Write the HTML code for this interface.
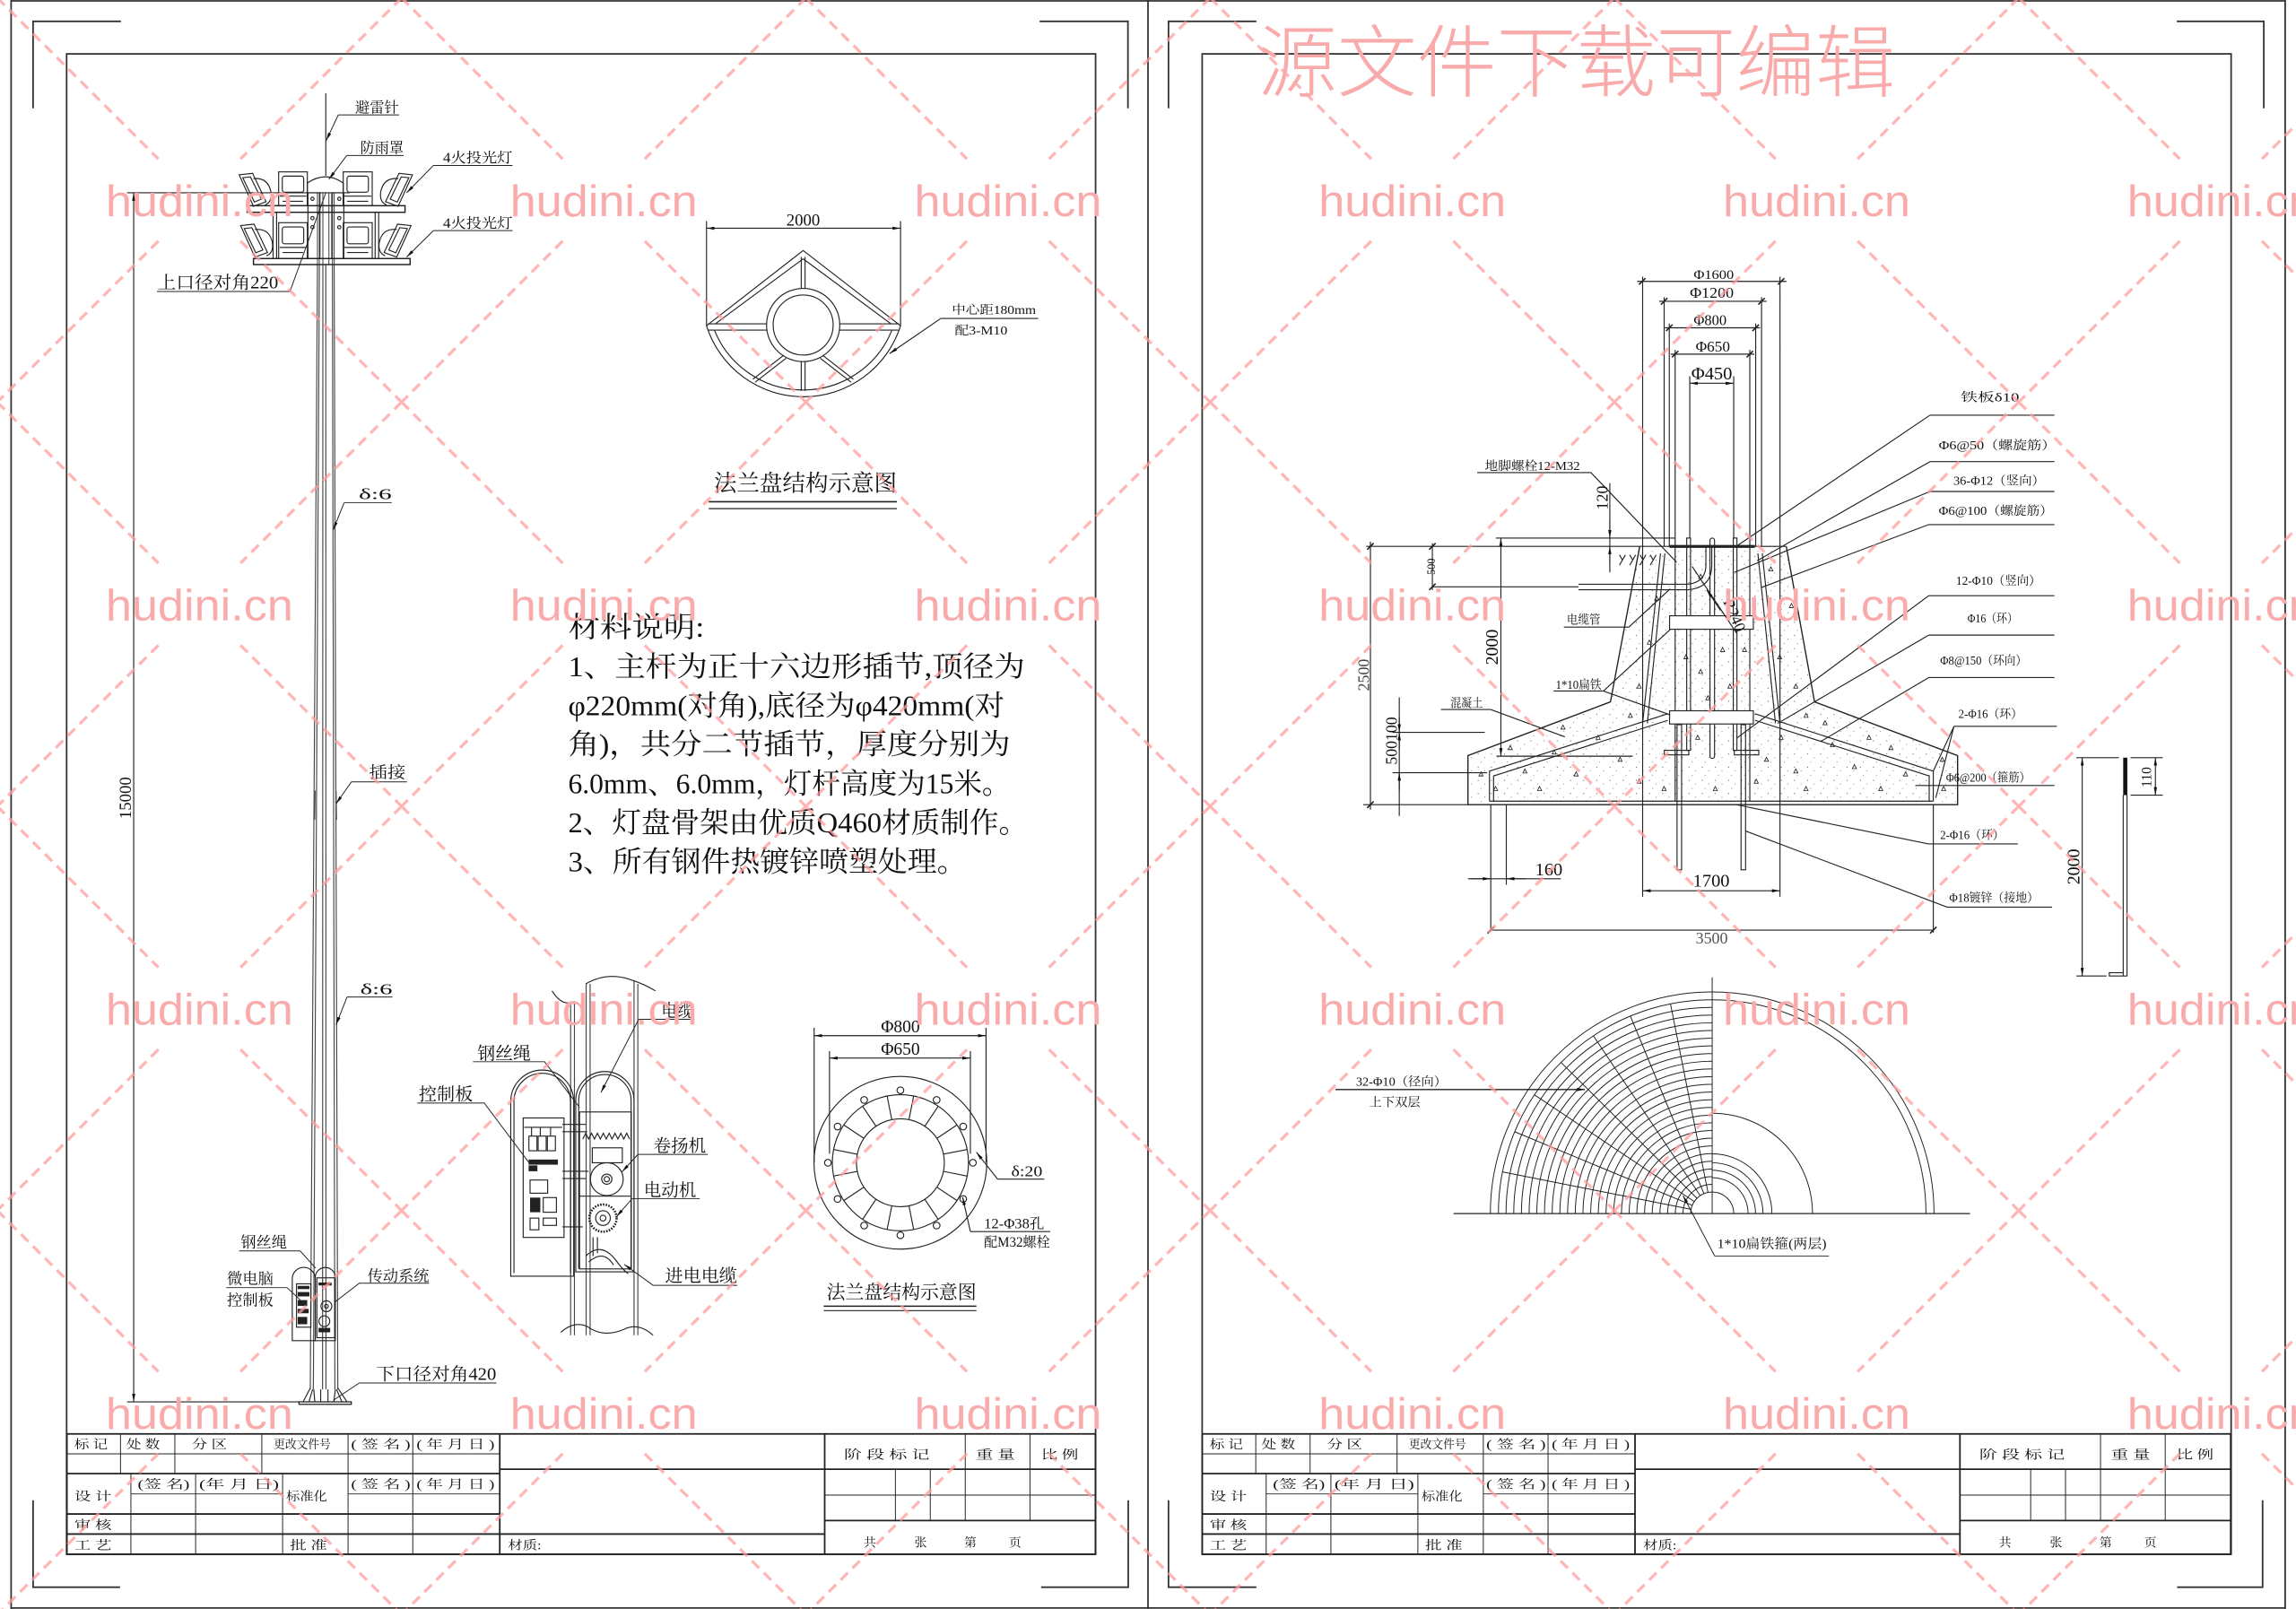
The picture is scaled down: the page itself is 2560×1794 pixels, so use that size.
<!DOCTYPE html>
<html><head><meta charset="utf-8">
<style>
html,body{margin:0;padding:0;background:#fff;}
svg{display:block;}
text{font-family:"Liberation Serif","Noto Serif CJK SC",serif;fill:#111;}
.ss{font-family:"Liberation Sans","Noto Sans CJK SC",sans-serif;}
</style></head><body>
<svg xmlns="http://www.w3.org/2000/svg" width="2560" height="1794" viewBox="0 0 1568 1099" preserveAspectRatio="none">
<defs>
<marker id="a" viewBox="0 0 10 4" refX="10" refY="2" markerUnits="userSpaceOnUse" markerWidth="5.5" markerHeight="2.2" orient="auto"><path d="M0 0L10 2L0 4z" fill="#111"/></marker>
<marker id="as" viewBox="0 0 10 4" refX="10" refY="2" markerUnits="userSpaceOnUse" markerWidth="5.5" markerHeight="2.2" orient="auto-start-reverse"><path d="M0 0L10 2L0 4z" fill="#111"/></marker>
<pattern id="dt" patternUnits="userSpaceOnUse" x="0" y="0" width="9" height="9">
<circle cx="1.5" cy="2" r="0.35" fill="#555"/><circle cx="6" cy="4.5" r="0.3" fill="#555"/><circle cx="3.5" cy="7.5" r="0.3" fill="#555"/>
</pattern>
<pattern id="wm" patternUnits="userSpaceOnUse" x="-1.85" y="-1.45" width="276.1" height="276.1">
<g stroke="#ff9c9c" stroke-width="2" stroke-dasharray="7 4.5" fill="none" opacity="0.75">
<line x1="0" y1="0" x2="110" y2="110"/>
<line x1="166.1" y1="166.1" x2="276.1" y2="276.1"/>
<line x1="276.1" y1="0" x2="166.1" y2="110"/>
<line x1="110" y1="166.1" x2="0" y2="276.1"/>
</g>
<text class="ss" x="138.05" y="149" text-anchor="middle" font-size="30" textLength="128" lengthAdjust="spacingAndGlyphs" style="fill:#f9aaaa">hudini.cn</text>
</pattern>
</defs>
<rect width="1568" height="1099" fill="#fff"/>

<!-- ================= FRAMES ================= -->
<g stroke="#333" stroke-width="1.1" fill="none">
<line x1="7.6" y1="0.6" x2="1560.6" y2="0.6"/>
<line x1="7.6" y1="1098.3" x2="1560.6" y2="1098.3"/>
<line x1="7.6" y1="0" x2="7.6" y2="1099"/>
<line x1="784" y1="0" x2="784" y2="1099"/>
<line x1="1560.6" y1="0" x2="1560.6" y2="1099"/>
<rect x="45.5" y="36.8" width="702.7" height="1024.8"/>
<rect x="821" y="36.8" width="702.7" height="1024.8"/>
<path d="M22.6 74V14.6H82.6M710 14.6H770.3V74M22.6 1024.7V1084.1H82M711 1084.1H770.5V1024.7"/>
<path d="M798 74V14.6H858M1486.6 14.6H1546V74M798 1024.7V1084.1H858M1486.8 1084.1H1545.2V1024.7"/>
</g>

<!-- ================= TITLE BLOCKS ================= -->
<g>
<g stroke="#222" fill="none">
<g stroke-width="1.1">
<rect x="45.7" y="979.4" width="702.4" height="82.2"/>
<line x1="45.7" y1="1006.5" x2="341.3" y2="1006.5"/>
<line x1="45.7" y1="1034.1" x2="341.3" y2="1034.1"/>
<line x1="45.7" y1="1047.8" x2="563.2" y2="1047.8"/>
<line x1="341.3" y1="979.4" x2="341.3" y2="1061.6"/>
<line x1="563.2" y1="979.4" x2="563.2" y2="1061.6"/>
<line x1="341.3" y1="1003.5" x2="748.1" y2="1003.5"/>
<line x1="563.2" y1="1038.6" x2="748.1" y2="1038.6"/>
</g>
<g stroke-width="0.6">
<line x1="45.7" y1="993" x2="341.3" y2="993"/>
<line x1="89.4" y1="1020.4" x2="193" y2="1020.4"/>
<line x1="237.7" y1="1020.4" x2="341.3" y2="1020.4"/>
<line x1="563.2" y1="1021.2" x2="748.1" y2="1021.2"/>
<path d="M82.3 979.4V1006.5M119.4 979.4V1006.5M178.8 979.4V1006.5M237.7 979.4V1006.5M281.9 979.4V1006.5"/>
<path d="M89.4 1006.5V1061.6M133.6 1006.5V1061.6M193 1006.5V1061.6M237.7 1006.5V1061.6M281.9 1006.5V1061.6"/>
<path d="M611.5 1003.5V1038.6M635.3 1003.5V1038.6M659.2 979.4V1038.6M703.4 979.4V1038.6"/>
</g>
</g>
<g font-size="8.5">
<text x="50.8" y="989.3" textLength="22.8" lengthAdjust="spacingAndGlyphs">标 记</text>
<text x="86.3" y="989.3" textLength="22.9" lengthAdjust="spacingAndGlyphs">处 数</text>
<text x="131" y="989.3" textLength="24" lengthAdjust="spacingAndGlyphs">分 区</text>
<text x="186.9" y="989.3" textLength="39" lengthAdjust="spacingAndGlyphs">更改文件号</text>
<text x="239.7" y="989.3" textLength="40.6" lengthAdjust="spacingAndGlyphs">( 签 名 )</text>
<text x="284.4" y="989.3" textLength="53.3" lengthAdjust="spacingAndGlyphs">( 年 月 日 )</text>
<text x="94" y="1016.5" textLength="35.5" lengthAdjust="spacingAndGlyphs">(签 名)</text>
<text x="136" y="1016.5" textLength="54.5" lengthAdjust="spacingAndGlyphs">(年 月 日)</text>
<text x="239.7" y="1016.5" textLength="40.6" lengthAdjust="spacingAndGlyphs">( 签 名 )</text>
<text x="284.4" y="1016.5" textLength="53.3" lengthAdjust="spacingAndGlyphs">( 年 月 日 )</text>
<text x="50.8" y="1025" textLength="25.4" lengthAdjust="spacingAndGlyphs">设 计</text>
<text x="195.5" y="1025" textLength="27.9" lengthAdjust="spacingAndGlyphs">标准化</text>
<text x="50.8" y="1044.5" textLength="25.4" lengthAdjust="spacingAndGlyphs">审 核</text>
<text x="50.8" y="1058.3" textLength="25.4" lengthAdjust="spacingAndGlyphs">工 艺</text>
<text x="198" y="1058.3" textLength="25.4" lengthAdjust="spacingAndGlyphs">批 准</text>
<text x="346.9" y="1058.3" textLength="22.8" lengthAdjust="spacingAndGlyphs">材质:</text>
<text x="576.4" y="996.3" textLength="58.4" lengthAdjust="spacingAndGlyphs">阶 段 标 记</text>
<text x="666.3" y="996.3" textLength="26.9" lengthAdjust="spacingAndGlyphs">重 量</text>
<text x="711" y="996.3" textLength="25.4" lengthAdjust="spacingAndGlyphs">比 例</text>
<text x="594" y="1056.5" text-anchor="middle">共</text>
<text x="628.7" y="1056.5" text-anchor="middle">张</text>
<text x="662.7" y="1056.5" text-anchor="middle">第</text>
<text x="693.2" y="1056.5" text-anchor="middle">页</text>
</g>
</g>

<g transform="translate(775.3 0)">
<g stroke="#222" fill="none">
<g stroke-width="1.1">
<rect x="45.7" y="979.4" width="702.4" height="82.2"/>
<line x1="45.7" y1="1006.5" x2="341.3" y2="1006.5"/>
<line x1="45.7" y1="1034.1" x2="341.3" y2="1034.1"/>
<line x1="45.7" y1="1047.8" x2="563.2" y2="1047.8"/>
<line x1="341.3" y1="979.4" x2="341.3" y2="1061.6"/>
<line x1="563.2" y1="979.4" x2="563.2" y2="1061.6"/>
<line x1="341.3" y1="1003.5" x2="748.1" y2="1003.5"/>
<line x1="563.2" y1="1038.6" x2="748.1" y2="1038.6"/>
</g>
<g stroke-width="0.6">
<line x1="45.7" y1="993" x2="341.3" y2="993"/>
<line x1="89.4" y1="1020.4" x2="193" y2="1020.4"/>
<line x1="237.7" y1="1020.4" x2="341.3" y2="1020.4"/>
<line x1="563.2" y1="1021.2" x2="748.1" y2="1021.2"/>
<path d="M82.3 979.4V1006.5M119.4 979.4V1006.5M178.8 979.4V1006.5M237.7 979.4V1006.5M281.9 979.4V1006.5"/>
<path d="M89.4 1006.5V1061.6M133.6 1006.5V1061.6M193 1006.5V1061.6M237.7 1006.5V1061.6M281.9 1006.5V1061.6"/>
<path d="M611.5 1003.5V1038.6M635.3 1003.5V1038.6M659.2 979.4V1038.6M703.4 979.4V1038.6"/>
</g>
</g>
<g font-size="8.5">
<text x="50.8" y="989.3" textLength="22.8" lengthAdjust="spacingAndGlyphs">标 记</text>
<text x="86.3" y="989.3" textLength="22.9" lengthAdjust="spacingAndGlyphs">处 数</text>
<text x="131" y="989.3" textLength="24" lengthAdjust="spacingAndGlyphs">分 区</text>
<text x="186.9" y="989.3" textLength="39" lengthAdjust="spacingAndGlyphs">更改文件号</text>
<text x="239.7" y="989.3" textLength="40.6" lengthAdjust="spacingAndGlyphs">( 签 名 )</text>
<text x="284.4" y="989.3" textLength="53.3" lengthAdjust="spacingAndGlyphs">( 年 月 日 )</text>
<text x="94" y="1016.5" textLength="35.5" lengthAdjust="spacingAndGlyphs">(签 名)</text>
<text x="136" y="1016.5" textLength="54.5" lengthAdjust="spacingAndGlyphs">(年 月 日)</text>
<text x="239.7" y="1016.5" textLength="40.6" lengthAdjust="spacingAndGlyphs">( 签 名 )</text>
<text x="284.4" y="1016.5" textLength="53.3" lengthAdjust="spacingAndGlyphs">( 年 月 日 )</text>
<text x="50.8" y="1025" textLength="25.4" lengthAdjust="spacingAndGlyphs">设 计</text>
<text x="195.5" y="1025" textLength="27.9" lengthAdjust="spacingAndGlyphs">标准化</text>
<text x="50.8" y="1044.5" textLength="25.4" lengthAdjust="spacingAndGlyphs">审 核</text>
<text x="50.8" y="1058.3" textLength="25.4" lengthAdjust="spacingAndGlyphs">工 艺</text>
<text x="198" y="1058.3" textLength="25.4" lengthAdjust="spacingAndGlyphs">批 准</text>
<text x="346.9" y="1058.3" textLength="22.8" lengthAdjust="spacingAndGlyphs">材质:</text>
<text x="576.4" y="996.3" textLength="58.4" lengthAdjust="spacingAndGlyphs">阶 段 标 记</text>
<text x="666.3" y="996.3" textLength="26.9" lengthAdjust="spacingAndGlyphs">重 量</text>
<text x="711" y="996.3" textLength="25.4" lengthAdjust="spacingAndGlyphs">比 例</text>
<text x="594" y="1056.5" text-anchor="middle">共</text>
<text x="628.7" y="1056.5" text-anchor="middle">张</text>
<text x="662.7" y="1056.5" text-anchor="middle">第</text>
<text x="693.2" y="1056.5" text-anchor="middle">页</text>
</g>
</g>

<!-- ================= LEFT SHEET: POLE ================= -->
<g stroke="#222" stroke-width="0.7" fill="none">
<line x1="222.5" y1="63.7" x2="222.5" y2="120"/>
<path d="M209.9 140.5V125Q222.5 116.5 234.4 125V140.5"/>
<path d="M216.8 131.7V181M218.1 131.7V181M220.5 131.7V181M224.6 131.7V181M227 131.7V181M228.2 131.7V181" stroke="#555"/>
<rect x="210.3" y="131.7" width="8.2" height="44.9"/>
<rect x="226.6" y="131.7" width="8.2" height="44.9"/>
<circle cx="213.4" cy="135.8" r="1.1"/><circle cx="213.4" cy="149" r="1.1"/><circle cx="213.4" cy="155.2" r="1.1"/>
<circle cx="231.7" cy="135.8" r="1.1"/><circle cx="231.7" cy="149" r="1.1"/><circle cx="231.7" cy="155.2" r="1.1"/>
<rect x="168.8" y="140.5" width="107.8" height="4.5" stroke-width="0.9"/>
<rect x="173.1" y="176.6" width="107" height="4.1" stroke-width="0.9"/>
<path d="M188.9 145V176.6M256.2 145V176.6M186.5 145V176.6M258.6 145V176.6"/>
<rect x="190.3" y="117.4" width="19.6" height="23.1"/>
<rect x="192.8" y="120.3" width="14.6" height="11" rx="1.5"/>
<path d="M191 134H209.2M193 137.5H207"/>
<rect x="234.4" y="117.4" width="19.8" height="23.1"/>
<rect x="237" y="120.3" width="14.6" height="11" rx="1.5"/>
<path d="M235 134H253.6M237 137.5H251.5"/>
<rect x="190.3" y="152.1" width="19.6" height="24.5"/>
<rect x="192.8" y="155" width="14.6" height="11.5" rx="1.5"/>
<path d="M191 169H209.2M193 172.5H207"/>
<rect x="234.4" y="152.1" width="19.8" height="24.5"/>
<rect x="237" y="155" width="14.6" height="11.5" rx="1.5"/>
<path d="M235 169H253.6M237 172.5H251.5"/>
<path d="M163.3 119.4L172.5 118.4L181.7 137.8L173.1 140.9Z M165.8 121.4L171 120.8L178.5 136L173.7 138Z"/>
<path d="M173 122Q183 121 185 131Q186 138 181 140"/>
<path d="M281.7 119.4L272.5 118.4L263.3 137.8L271.9 140.9Z M279.2 121.4L274 120.8L266.5 136L271.3 138Z"/>
<path d="M272 122Q262 121 260 131Q259 138 264 140"/>
<path d="M164.3 154.1L173.5 153.1L182.7 172.5L174.1 175.6Z M166.8 156.1L172 155.5L179.5 170.7L174.7 172.7Z"/>
<path d="M174 156.7Q184 155.7 186 165.7Q187 172.7 182 174.7"/>
<path d="M280.7 154.1L271.5 153.1L262.3 172.5L270.9 175.6Z M278.2 156.1L273 155.5L265.5 170.7L270.3 172.7Z"/>
<path d="M271 156.7Q261 155.7 259 165.7Q258 172.7 263 174.7"/>
<line x1="86.8" y1="131.7" x2="238.9" y2="131.7"/>
<line x1="86.8" y1="957.5" x2="204" y2="957.5"/>
<line x1="91.3" y1="131.7" x2="91.3" y2="957.5" marker-start="url(#as)" marker-end="url(#as)"/>
<g stroke="#444">
<line x1="216.8" y1="181" x2="211.9" y2="949"/>
<line x1="218.1" y1="181" x2="214" y2="949"/>
<line x1="220.5" y1="181" x2="220.3" y2="949"/>
<line x1="222.5" y1="181" x2="222.6" y2="949"/>
<line x1="227" y1="181" x2="228.7" y2="949"/>
<line x1="228.2" y1="181" x2="230.7" y2="949"/>
<path d="M215.2 540L214.9 560M229.5 540L229.8 560"/>
</g>
<rect x="204.2" y="957.5" width="35.7" height="1.7" stroke-width="0.8"/>
<path d="M207 957.5L212 948M211 957.5L213.5 949M215 957.5L214.3 949M237 957.5L230.7 948M233.5 957.5L229.8 949M228 957.5L229 949M219 957.5V949M224 957.5V949"/>
<path d="M199.6 915.7V873.5A7.85 7.85 0 0 1 215.3 873.5V915.7Z"/>
<path d="M215.3 915.7V872.6A6.85 6.85 0 0 1 229 872.6V915.7Z"/>
<rect x="202.5" y="876.9" width="9.8" height="29.6"/>
<rect x="216.4" y="872.8" width="12.2" height="40.9"/>
<circle cx="222.9" cy="892.2" r="3.7"/><circle cx="222.9" cy="892.2" r="1.3"/>
<circle cx="221.5" cy="902.4" r="3.7"/>
</g>
<g fill="#222">
<rect x="203.3" y="878.3" width="8" height="2.2"/>
<rect x="203.3" y="882.5" width="8" height="3"/>
<rect x="203.3" y="888" width="6.5" height="4"/>
<rect x="203.3" y="894" width="7.5" height="3"/>
<rect x="203.3" y="899.5" width="6.5" height="5"/>
<rect x="217.5" y="876" width="9" height="2"/>
<rect x="217.5" y="907" width="8" height="3"/>
</g>

<g stroke="#222" stroke-width="0.6" fill="none">
<path d="M231 78.5H272.5"/><path d="M231 78.5L222.8 96" marker-end="url(#a)"/>
<path d="M236.8 106.2H275.6"/><path d="M236.8 106.2L224.6 122.5" marker-end="url(#a)"/>
<path d="M296 113H350"/><path d="M296 113L277.7 131.7" marker-end="url(#a)"/>
<path d="M296 157.5H350"/><path d="M296 157.5L277.7 175.6" marker-end="url(#a)"/>
<path d="M107.2 199.1H198L222.5 131.7"/>
<path d="M235 343.4H267.5"/><path d="M235 343.4L227.5 362" marker-end="url(#a)"/>
<path d="M240 534H278"/><path d="M240 534L229.5 549" marker-end="url(#a)"/>
<path d="M237 681H268"/><path d="M237 681L229.5 700" marker-end="url(#a)"/>
<path d="M163.3 854.4H205L215.6 866.2"/>
<path d="M154.5 879.5H196L205.2 888"/>
<path d="M293 876.5H245.4L229.1 889"/>
<path d="M339 944.6H245.4L227.6 956.5"/>
</g>
<g>
<text x="242.5" y="77" font-size="10" textLength="30" lengthAdjust="spacingAndGlyphs">避雷针</text>
<text x="246" y="104.5" font-size="10" textLength="29.6" lengthAdjust="spacingAndGlyphs">防雨罩</text>
<text x="302.5" y="111" font-size="9.5" textLength="47.5" lengthAdjust="spacingAndGlyphs">4火投光灯</text>
<text x="302.5" y="155.7" font-size="9.5" textLength="47.5" lengthAdjust="spacingAndGlyphs">4火投光灯</text>
<text x="107.5" y="197" font-size="12" textLength="82.5" lengthAdjust="spacingAndGlyphs">上口径对角220</text>
<text transform="translate(89.5 545) rotate(-90)" text-anchor="middle" font-size="11.5">15000</text>
<text x="245" y="341" font-size="10" textLength="22.5" lengthAdjust="spacingAndGlyphs">δ:6</text>
<text x="252" y="531.5" font-size="11" textLength="25" lengthAdjust="spacingAndGlyphs">插接</text>
<text x="246" y="679" font-size="10" textLength="22" lengthAdjust="spacingAndGlyphs">δ:6</text>
<text x="164.4" y="852" font-size="10.5" textLength="31.6" lengthAdjust="spacingAndGlyphs">钢丝绳</text>
<text x="155" y="877" font-size="10.5" textLength="31.8" lengthAdjust="spacingAndGlyphs">微电脑</text>
<text x="155" y="891.5" font-size="10.5" textLength="31.8" lengthAdjust="spacingAndGlyphs">控制板</text>
<text x="251" y="875" font-size="10.5" textLength="42" lengthAdjust="spacingAndGlyphs">传动系统</text>
<text x="256.8" y="942.5" font-size="12" textLength="82.1" lengthAdjust="spacingAndGlyphs">下口径对角420</text>
</g>

<!-- ================= UPPER FLANGE ================= -->
<g stroke="#222" stroke-width="0.7" fill="none">
<line x1="482.5" y1="151" x2="482.5" y2="222.5"/>
<line x1="615" y1="151" x2="615" y2="222.5"/>
<line x1="482.5" y1="155.9" x2="615" y2="155.9" marker-start="url(#as)" marker-end="url(#as)"/>
<path d="M548.5 171.1L482.5 222.5A69.5 69.5 0 0 0 615 222.5Z"/>
<path d="M548.5 176.8L488.5 221.2M548.5 176.8L608.5 221.2"/>
<path d="M488 225.8A65.4 65.4 0 0 0 609 225.8"/>
<path d="M483.5 221.2H523.8M483.5 225.5H524M573.2 221.2H614M573 225.5H613.5"/>
<circle cx="548.5" cy="222" r="25"/>
<circle cx="548.5" cy="222" r="20.5"/>
<path d="M547.2 175.5V197M549.8 175.5V197M547.2 247V267M549.8 247V267"/>
<path d="M535.2 242.6L514.2 259M536.8 244.7L515.8 261M561.8 242.6L582.8 259M560.2 244.7L581.2 261"/>
<path d="M642.5 217.5H709"/>
<path d="M642.5 217.5L607.5 241.5" marker-end="url(#a)"/>
<path d="M484 342.7H612.5" stroke-width="1"/>
<path d="M484 347.4H612.5" stroke-width="0.8"/>
</g>
<text x="548.5" y="154" text-anchor="middle" font-size="11.5">2000</text>
<text x="650" y="214.5" font-size="8.5" textLength="57.5" lengthAdjust="spacingAndGlyphs">中心距180mm</text>
<text x="652" y="228.5" font-size="8.5" textLength="36" lengthAdjust="spacingAndGlyphs">配3-M10</text>
<text x="487.5" y="335.5" font-size="15.6" textLength="125" lengthAdjust="spacingAndGlyphs">法兰盘结构示意图</text>

<!-- ================= MATERIAL TEXT ================= -->
<g font-size="19.5">
<text x="388" y="435" textLength="93" lengthAdjust="spacingAndGlyphs">材料说明:</text>
<text x="388" y="462" textLength="312" lengthAdjust="spacingAndGlyphs">1、主杆为正十六边形插节,顶径为</text>
<text x="388" y="488.5" textLength="298" lengthAdjust="spacingAndGlyphs">φ220mm(对角),底径为φ420mm(对</text>
<text x="388" y="515" textLength="302" lengthAdjust="spacingAndGlyphs">角)，共分二节插节，厚度分别为</text>
<text x="388" y="542" textLength="302" lengthAdjust="spacingAndGlyphs">6.0mm、6.0mm，灯杆高度为15米。</text>
<text x="388" y="568.5" textLength="314" lengthAdjust="spacingAndGlyphs">2、灯盘骨架由优质Q460材质制作。</text>
<text x="388" y="595" textLength="272" lengthAdjust="spacingAndGlyphs">3、所有钢件热镀锌喷塑处理。</text>
</g>

<!-- ================= WINCH DETAIL ================= -->
<g stroke="#222" stroke-width="0.7" fill="none">
<path d="M389.7 684V912M392.3 684V912M400.3 672V912M403 672V912M433 670V912M435.6 672V912" stroke="#444"/>
<path d="M377 676.8Q384 688 392.3 684"/>
<path d="M400 672Q414 664 429 668.6Q440 672 447.6 676.8"/>
<path d="M383 910Q392 902 401 906Q412 914 426 908Q436 903 446 912"/>
<path d="M348.8 871.7V752.4A21.5 21.5 0 0 1 391.8 752.4V871.7Z"/>
<path d="M351 869.5V752.4A19.3 19.3 0 0 1 389.6 752.4V869.5"/>
<path d="M393.2 868.7V751.8A19.9 19.9 0 0 1 433 751.8V868.7Z"/>
<path d="M395.2 866.7V751.8A17.9 17.9 0 0 1 431 751.8V866.7"/>
<rect x="357.3" y="763.6" width="27.9" height="81.6"/>
<rect x="361.2" y="776" width="5.5" height="10"/><rect x="367.5" y="776" width="5.5" height="10"/><rect x="373.8" y="776" width="5.5" height="10"/>
<path d="M358 770H384M363 770V776M369 770V776M376 770V776"/>
<rect x="362" y="806" width="12" height="9"/>
<rect x="371" y="818" width="9" height="10"/>
<rect x="362" y="832" width="6" height="8"/>
<rect x="371" y="832" width="9" height="5"/>
<path d="M384 768H400M384 773H401M384 800H402M384 805H400M384 838H398"/>
<rect x="395.8" y="759.5" width="35.3" height="107.2"/>
<polyline points="398,778 400,774 402,778 404,774 406,778 408,774 410,778 412,774 414,778 416,774 418,778 420,774 422,778 424,774 426,778 428,774 430,778"/>
<rect x="404.5" y="784" width="20.5" height="10.2"/>
<circle cx="414.4" cy="805.4" r="11.2"/>
<circle cx="414.4" cy="805.4" r="3.5"/>
<circle cx="414.4" cy="805.4" r="1.8"/>
<line x1="395.8" y1="817" x2="431.1" y2="817"/>
<circle cx="411.8" cy="832" r="9.3" stroke-width="1.6" stroke-dasharray="1 0.9"/>
<circle cx="411.8" cy="832" r="5"/>
<circle cx="411.8" cy="832" r="2"/>
<path d="M400 858Q410 848 420 860Q425 867 429 870M402 862Q412 853 419 864"/>
<path d="M405 845V858M408 845V856"/>
</g>
<g fill="#222">
<rect x="361" y="792" width="20" height="3.5"/>
<rect x="362" y="818" width="7" height="10"/>
<rect x="361" y="796" width="6" height="4"/>
</g>
<g stroke="#222" stroke-width="0.6" fill="none">
<path d="M474.2 696.2H436.2"/><path d="M436.2 696.2L410.4 746.2" marker-end="url(#a)"/>
<path d="M323 725.2H371.9L395.8 756.4"/>
<path d="M285 753.4H330.7L361.3 794.2"/>
<path d="M483.4 788.5H435.7"/><path d="M435.7 788.5L424.8 800.4" marker-end="url(#a)"/>
<path d="M477.9 818.7H431.7"/><path d="M431.7 818.7L421 831" marker-end="url(#a)"/>
<path d="M503.4 877.9H446"/><path d="M446 877.9L426.3 863.6" marker-end="url(#a)"/>
</g>
<g font-size="12">
<text x="451.6" y="694.5" textLength="22.6" lengthAdjust="spacingAndGlyphs">电缆</text>
<text x="326" y="723.5" textLength="36.6" lengthAdjust="spacingAndGlyphs">钢丝绳</text>
<text x="286" y="751.5" textLength="37" lengthAdjust="spacingAndGlyphs">控制板</text>
<text x="446.3" y="786.5" textLength="35.8" lengthAdjust="spacingAndGlyphs">卷扬机</text>
<text x="439.6" y="817" textLength="35.9" lengthAdjust="spacingAndGlyphs">电动机</text>
<text x="454.2" y="875.5" textLength="49.2" lengthAdjust="spacingAndGlyphs">进电电缆</text>
</g>

<!-- ================= LOWER FLANGE ================= -->
<g stroke="#222" stroke-width="0.7" fill="none">
<circle cx="614.9" cy="794.2" r="59"/>
<circle cx="614.9" cy="794.2" r="46.5"/>
<circle cx="614.9" cy="794.2" r="30"/>
<g transform="translate(614.9 794.2)">
<path d="M0 -30V-46.5M0 30V46.5M-30 0H-46.5M30 0H46.5M21.2 -21.2L32.9 -32.9M-21.2 -21.2L-32.9 -32.9M21.2 21.2L32.9 32.9M-21.2 21.2L-32.9 32.9M11.5 -27.7L17.8 -43M-11.5 -27.7L-17.8 -43M11.5 27.7L17.8 43M-11.5 27.7L-17.8 43M27.7 -11.5L43 -17.8M-27.7 -11.5L-43 -17.8M27.7 11.5L43 17.8M-27.7 11.5L-43 17.8" transform="rotate(11.25)"/>
<circle cx="0" cy="-49.5" r="2.3"/><circle cx="24.75" cy="-42.9" r="2.3"/><circle cx="42.9" cy="-24.75" r="2.3"/><circle cx="49.5" cy="0" r="2.3"/>
<circle cx="42.9" cy="24.75" r="2.3"/><circle cx="24.75" cy="42.9" r="2.3"/><circle cx="0" cy="49.5" r="2.3"/><circle cx="-24.75" cy="42.9" r="2.3"/>
<circle cx="-42.9" cy="24.75" r="2.3"/><circle cx="-49.5" cy="0" r="2.3"/><circle cx="-42.9" cy="-24.75" r="2.3"/><circle cx="-24.75" cy="-42.9" r="2.3"/>
</g>
<path d="M556 702V794M673.4 702V794M566.5 718V788M662.7 718V788"/>
<line x1="556" y1="707.4" x2="673.4" y2="707.4" marker-start="url(#as)" marker-end="url(#as)"/>
<line x1="566.5" y1="722.7" x2="662.7" y2="722.7" marker-start="url(#as)" marker-end="url(#as)"/>
<path d="M681.3 805.4H713.2"/><path d="M681.3 805.4L666.8 787" marker-end="url(#a)"/>
<path d="M662.7 841.2H717.2"/><path d="M662.7 841.2L657.4 817.7" marker-end="url(#a)"/>
<path d="M562.5 892.2H666.8" stroke-width="0.9"/>
<path d="M562.5 895.2H666.8" stroke-width="0.7"/>
</g>
<text x="601.6" y="705" font-size="12" textLength="26.6" lengthAdjust="spacingAndGlyphs">Φ800</text>
<text x="601.6" y="720.3" font-size="12" textLength="26.6" lengthAdjust="spacingAndGlyphs">Φ650</text>
<text x="690.6" y="803.5" font-size="10" textLength="21.3" lengthAdjust="spacingAndGlyphs">δ:20</text>
<text x="672" y="839" font-size="9.5" textLength="41.2" lengthAdjust="spacingAndGlyphs">12-Φ38孔</text>
<text x="672" y="851.5" font-size="9.5" textLength="45" lengthAdjust="spacingAndGlyphs">配M32螺栓</text>
<text x="564.5" y="887" font-size="12.8" textLength="102.3" lengthAdjust="spacingAndGlyphs">法兰盘结构示意图</text>

<!-- ================= RIGHT SHEET: FOUNDATION ================= -->
<path d="M1119.8 373.2L1099.8 479.4L1002.5 516.1V549.6H1336.9V516.1L1239.2 479.4L1219.9 373.2Z" fill="url(#dt)" stroke="none"/>
<g stroke="#222" stroke-width="0.7" fill="none">
<path d="M1118 192.2H1220M1133 205.8H1206.5M1137 223.9H1202M1141 241.9H1198"/>
<path d="M1119.3 194.4L1123.7 190M1214.2 194.4L1218.6 190M1134.3 208L1138.7 203.6M1200.8 208L1205.2 203.6M1137.8 226.1L1142.2 221.7M1196.8 226.1L1201.2 221.7M1141.8 244.1L1146.2 239.7M1192.8 244.1L1197.2 239.7" stroke-width="1"/>
<line x1="1154" y1="261.8" x2="1184" y2="261.8" marker-start="url(#as)" marker-end="url(#as)"/>
<path d="M1121.8 189V612.5M1215.6 189V612.5M1136.5 203V373.2M1203 203V373.2M1140 221V373.2M1199 221V373.2M1144 239V547.2M1195 239V547.2M1154 257V367.5M1184 257V367.5"/>
<path d="M1119.8 373.2L1099.8 479.4L1002.5 516.1V549.6H1336.9V516.1L1239.2 479.4L1219.9 373.2" stroke-width="0.85"/>
<line x1="933" y1="373.2" x2="1140.2" y2="373.2"/>
<line x1="1198.4" y1="373.2" x2="1219.9" y2="373.2"/>
<line x1="1140.2" y1="373.2" x2="1198.4" y2="373.2" stroke-width="2"/>
<line x1="931" y1="549.6" x2="1002.5" y2="549.6"/>
<line x1="935.9" y1="370" x2="935.9" y2="553"/>
<path d="M933.7 375.4L938.1 371M933.7 551.8L938.1 547.4" stroke-width="1"/>
<path d="M1017.2 547.2V526.7L1139 487.5M1020 547.2V530L1139 492M1320.3 547.2V526.7L1198.5 487.5M1317.5 547.2V530L1198.5 492M1017.2 547.2H1320.3"/>
<path d="M1134 378L1121.8 494M1137 378L1125 494M1203.5 378L1215.6 494M1200.5 378L1212.5 494"/>
<rect x="1151.9" y="367.5" width="2.6" height="145"/>
<rect x="1167.8" y="367.5" width="3.1" height="150.5" rx="1.5"/>
<rect x="1183.7" y="367.5" width="2.5" height="145"/>
<rect x="1136.6" y="512.5" width="16.7" height="3.1"/>
<rect x="1184.4" y="512.5" width="16.7" height="3.1"/>
<rect x="1145.3" y="495" width="3.1" height="99.1"/>
<rect x="1189" y="495" width="3.1" height="99.1"/>
<rect x="1140.2" y="420.6" width="57.2" height="9.2" fill="#fff"/>
<rect x="1140.2" y="485.5" width="57.2" height="9" fill="#fff"/>
<path d="M1078 399.1H1152Q1165 398 1165 386V373.2M1078 402.8H1153Q1169 401.5 1169 386V373.2"/>
<path d="M978 400.8H1078"/>
<path d="M1106 386L1110 379M1108 382.5L1106 379M1113 386L1117 379M1115 382.5L1113 379M1120 386L1124 379M1122 382.5L1120 379M1127 386L1131 379M1129 382.5L1127 379"/>
<line x1="1099.4" y1="330" x2="1099.4" y2="391"/>
<line x1="1099.4" y1="355" x2="1099.4" y2="367.5" marker-end="url(#a)"/>
<line x1="1099.4" y1="386" x2="1099.4" y2="373.2" marker-end="url(#a)"/>
<line x1="1021.5" y1="367.5" x2="1144" y2="367.5"/>
<line x1="978.2" y1="371" x2="978.2" y2="403"/>
<path d="M976 375.4L980.4 371M976 403L980.4 398.6" stroke-width="1"/>
<line x1="1025" y1="367.5" x2="1025" y2="516.5" marker-start="url(#as)" marker-end="url(#as)"/>
<line x1="1022" y1="516.5" x2="1115" y2="516.5"/>
<line x1="955.6" y1="476.3" x2="955.6" y2="557.3"/>
<line x1="951" y1="500.2" x2="1014" y2="500.2"/>
<line x1="951" y1="527.8" x2="1015.6" y2="527.8"/>
<line x1="955.6" y1="490" x2="955.6" y2="500.2" marker-end="url(#a)"/>
<line x1="955.6" y1="540" x2="955.6" y2="527.8" marker-end="url(#a)"/>
<line x1="955.6" y1="512" x2="955.6" y2="500.2" marker-end="url(#a)"/>
<path d="M1018.1 549.6V635.3M1028.7 549.6V604.3M1320.3 549.6V637"/>
<line x1="1002.5" y1="600.2" x2="1066" y2="600.2"/>
<line x1="1004" y1="600.2" x2="1018.1" y2="600.2" marker-end="url(#a)"/>
<line x1="1042" y1="600.2" x2="1028.7" y2="600.2" marker-end="url(#a)"/>
<line x1="1121.8" y1="608.4" x2="1215.6" y2="608.4" marker-start="url(#as)" marker-end="url(#as)"/>
<line x1="1018.1" y1="635.3" x2="1320.3" y2="635.3"/>
<path d="M1015.9 637.5L1020.3 633.1M1318.1 637.5L1322.5 633.1" stroke-width="1"/>
<line x1="1155.6" y1="386.9" x2="1186.2" y2="432.8"/>
<line x1="1175" y1="417" x2="1165.6" y2="402.8" marker-end="url(#a)"/>
<path stroke-width="0.5" d="M1130 410l1.4-2.8l1.4 2.8zM1125 440l1.4-2.8l1.4 2.8zM1118 470l1.4-2.8l1.4 2.8zM1160 395l1.4-2.8l1.4 2.8zM1175 445l1.4-2.8l1.4 2.8zM1160 460l1.4-2.8l1.4 2.8zM1165 478l1.4-2.8l1.4 2.8zM1208 390l1.4-2.8l1.4 2.8zM1222 415l1.4-2.8l1.4 2.8zM1214 450l1.4-2.8l1.4 2.8zM1225 470l1.4-2.8l1.4 2.8zM1150 450l1.4-2.8l1.4 2.8zM1190 445l1.4-2.8l1.4 2.8zM1180 470l1.4-2.8l1.4 2.8zM1020 540l1.4-2.8l1.4 2.8zM1040 528l1.4-2.8l1.4 2.8zM1060 515l1.4-2.8l1.4 2.8zM1075 530l1.4-2.8l1.4 2.8zM1090 505l1.4-2.8l1.4 2.8zM1105 520l1.4-2.8l1.4 2.8zM1118 535l1.4-2.8l1.4 2.8zM1050 540l1.4-2.8l1.4 2.8zM1010 530l1.4-2.8l1.4 2.8zM1135 540l1.4-2.8l1.4 2.8zM1158 505l1.4-2.8l1.4 2.8zM1205 520l1.4-2.8l1.4 2.8zM1215 505l1.4-2.8l1.4 2.8zM1232 540l1.4-2.8l1.4 2.8zM1250 510l1.4-2.8l1.4 2.8zM1265 525l1.4-2.8l1.4 2.8zM1283 540l1.4-2.8l1.4 2.8zM1300 530l1.4-2.8l1.4 2.8zM1326 540l1.4-2.8l1.4 2.8zM1325 520l1.4-2.8l1.4 2.8zM1245 495l1.4-2.8l1.4 2.8zM1275 505l1.4-2.8l1.4 2.8zM1290 512l1.4-2.8l1.4 2.8zM1066 498l1.4-2.8l1.4 2.8zM1030 512l1.4-2.8l1.4 2.8zM1198 535l1.4-2.8l1.4 2.8zM1170 540l1.4-2.8l1.4 2.8zM1225 528l1.4-2.8l1.4 2.8zM1112 490l1.4-2.8l1.4 2.8zM1232 490l1.4-2.8l1.4 2.8z"/>
<path d="M1008.8 322.8H1086.5L1145 384"/>
<path d="M1068 428.3H1112.4L1140.6 402.2"/>
<path d="M1061 472H1095L1140.6 488.3M1095 472L1140.6 430"/>
<path d="M984 484.6H1018L1068.7 503.3"/>
<path d="M1318 283.6H1403M1318 283.6L1187 372.3"/>
<path d="M1318 315.3H1403M1318 315.3L1200 383"/>
<path d="M1318 335.7H1403M1318 335.7L1184.4 391"/>
<path d="M1317.2 358.3H1403M1317.2 358.3L1203.1 401.2"/>
<path d="M1317.2 406.9H1403M1317.2 406.9L1185.9 504.3"/>
<path d="M1317.2 433.8H1403M1317.2 433.8L1214 494.1"/>
<path d="M1317.2 462.8H1403M1317.2 462.8L1243.7 506.3"/>
<path d="M1334.4 496.1H1404.7M1334.4 496.1L1320.3 526.7M1334.4 496.1L1322 545"/>
<path d="M1308 536.5H1403"/>
<path d="M1317 576.4H1378M1317 576.4L1185 549.5M1317 576.4L1195 551.5"/>
<path d="M1329.7 619.6H1401.4M1329.7 619.6L1192.1 567.6"/>
<path d="M1450 543.1V666.6M1452.6 543.1V666.6H1440.5V664.4H1450"/>
<line x1="1422" y1="517.5" x2="1422" y2="666.6" marker-start="url(#as)" marker-end="url(#as)"/>
<path d="M1418 517.5H1447M1418 666.6H1438.6M1455 517.5H1477M1455 543.1H1477"/>
<line x1="1472" y1="517.5" x2="1472" y2="543.1" marker-start="url(#as)" marker-end="url(#as)"/>
</g>
<rect x="1450" y="517.5" width="2.8" height="25.6" fill="#111"/>
<g>
<text x="1156.6" y="190.5" font-size="9" textLength="27.5" lengthAdjust="spacingAndGlyphs">Φ1600</text>
<text x="1154" y="203.5" font-size="10" textLength="30" lengthAdjust="spacingAndGlyphs">Φ1200</text>
<text x="1156.6" y="222" font-size="10" textLength="22.5" lengthAdjust="spacingAndGlyphs">Φ800</text>
<text x="1158" y="240" font-size="10" textLength="23.5" lengthAdjust="spacingAndGlyphs">Φ650</text>
<text x="1155" y="259" font-size="12.5" textLength="28" lengthAdjust="spacingAndGlyphs">Φ450</text>
<text transform="translate(935 461) rotate(-90)" text-anchor="middle" font-size="11" style="fill:#444">2500</text>
<text transform="translate(1023 442) rotate(-90)" text-anchor="middle" font-size="12.2">2000</text>
<text transform="translate(980 387) rotate(-90)" text-anchor="middle" font-size="7.5">500</text>
<text transform="translate(954 506) rotate(-90)" text-anchor="middle" font-size="11" textLength="32.6" lengthAdjust="spacingAndGlyphs">500100</text>
<text transform="translate(1098 340) rotate(-90)" text-anchor="middle" font-size="11">120</text>
<text transform="translate(1184.5 420.2) rotate(67)" text-anchor="middle" font-size="10.8" dy="3.5">R240</text>
<text x="1048.4" y="598" font-size="12.5" textLength="18.7" lengthAdjust="spacingAndGlyphs">160</text>
<text x="1168.7" y="605.5" text-anchor="middle" font-size="12.5">1700</text>
<text x="1169" y="644.5" text-anchor="middle" font-size="11" style="fill:#555">3500</text>
<text transform="translate(1420 592) rotate(-90)" text-anchor="middle" font-size="12.2">2000</text>
<text transform="translate(1469 530.8) rotate(-90)" text-anchor="middle" font-size="9.5">110</text>
<g font-size="8.5">
<text x="1014" y="321" textLength="65" lengthAdjust="spacingAndGlyphs">地脚螺栓12-M32</text>
<text x="1070" y="426" textLength="23" lengthAdjust="spacingAndGlyphs">电缆管</text>
<text x="1062.5" y="470.5" textLength="31.2" lengthAdjust="spacingAndGlyphs">1*10扁铁</text>
<text x="990.6" y="483" textLength="22" lengthAdjust="spacingAndGlyphs">混凝土</text>
<text x="1339" y="274" textLength="40" lengthAdjust="spacingAndGlyphs">铁板δ10</text>
<text x="1324" y="307" textLength="80" lengthAdjust="spacingAndGlyphs">Φ6@50（螺旋筋）</text>
<text x="1334" y="331" textLength="62.5" lengthAdjust="spacingAndGlyphs">36-Φ12（竖向）</text>
<text x="1324" y="351.5" textLength="78" lengthAdjust="spacingAndGlyphs">Φ6@100（螺旋筋）</text>
<text x="1335.8" y="399.5" textLength="58" lengthAdjust="spacingAndGlyphs">12-Φ10（竖向）</text>
<text x="1343.7" y="425" textLength="34.3" lengthAdjust="spacingAndGlyphs">Φ16（环）</text>
<text x="1325" y="454" textLength="59.3" lengthAdjust="spacingAndGlyphs">Φ8@150（环向）</text>
<text x="1337.5" y="490.5" textLength="43.7" lengthAdjust="spacingAndGlyphs">2-Φ16（环）</text>
<text x="1329" y="534" textLength="57.6" lengthAdjust="spacingAndGlyphs">Φ6@200（箍筋）</text>
<text x="1325" y="573" textLength="43.7" lengthAdjust="spacingAndGlyphs">2-Φ16（环）</text>
<text x="1331.2" y="616" textLength="61" lengthAdjust="spacingAndGlyphs">Φ18镀锌（接地）</text>
</g>
</g>

<!-- ================= HALF-CIRCLE PLAN ================= -->
<g stroke="#222" stroke-width="0.6" fill="none">
<line x1="992.7" y1="828.9" x2="1345.4" y2="828.9" stroke-width="0.8"/>
<line x1="1169.3" y1="667.6" x2="1169.3" y2="828.9"/>
<path d="M1017.8 828.9A151.5 151.5 0 0 1 1320.8 828.9M1023.3 828.9A146 146 0 0 1 1315.3 828.9M1154.6 828.9A14.7 14.7 0 0 1 1184 828.9"/>
<path d="M1149.35 828.9A19.95 19.95 0 0 1 1169.3 808.95M1144.09 828.9A25.21 25.21 0 0 1 1169.3 803.69M1138.84 828.9A30.46 30.46 0 0 1 1169.3 798.44M1133.58 828.9A35.72 35.72 0 0 1 1169.3 793.18M1128.33 828.9A40.97 40.97 0 0 1 1169.3 787.93M1123.08 828.9A46.22 46.22 0 0 1 1169.3 782.68M1117.82 828.9A51.48 51.48 0 0 1 1169.3 777.42M1112.57 828.9A56.73 56.73 0 0 1 1169.3 772.17M1107.31 828.9A61.99 61.99 0 0 1 1169.3 766.91M1102.06 828.9A67.24 67.24 0 0 1 1169.3 761.66M1096.81 828.9A72.49 72.49 0 0 1 1169.3 756.41M1091.55 828.9A77.75 77.75 0 0 1 1169.3 751.15M1086.3 828.9A83 83 0 0 1 1169.3 745.9M1081.04 828.9A88.26 88.26 0 0 1 1169.3 740.64M1075.79 828.9A93.51 93.51 0 0 1 1169.3 735.39M1070.54 828.9A98.76 98.76 0 0 1 1169.3 730.14M1065.28 828.9A104.02 104.02 0 0 1 1169.3 724.88M1060.03 828.9A109.27 109.27 0 0 1 1169.3 719.63M1054.77 828.9A114.53 114.53 0 0 1 1169.3 714.37M1049.52 828.9A119.78 119.78 0 0 1 1169.3 709.12M1044.27 828.9A125.03 125.03 0 0 1 1169.3 703.87M1039.01 828.9A130.29 130.29 0 0 1 1169.3 698.61M1033.76 828.9A135.54 135.54 0 0 1 1169.3 693.36M1028.5 828.9A140.8 140.8 0 0 1 1169.3 688.1"/>
<path d="M1169.3 804.4A24.5 24.5 0 0 1 1193.8 828.9M1169.3 799.3A29.6 29.6 0 0 1 1198.9 828.9M1169.3 794.2A34.7 34.7 0 0 1 1204 828.9M1169.3 788.1A40.8 40.8 0 0 1 1210.1 828.9M1169.3 760.4A68.5 68.5 0 0 1 1237.8 828.9"/>
<path d="M1154.88 826.03L1026.1 800.41M1155.72 823.27L1034.41 773.03M1157.08 820.73L1047.9 747.78M1158.91 818.51L1066.06 725.66M1161.13 816.68L1088.18 707.5M1163.67 815.32L1113.43 694.01M1166.43 814.48L1140.82 685.7"/>
<line x1="912" y1="744.2" x2="1082.4" y2="744.2" stroke-width="0.8" marker-end="url(#a)"/>
<path d="M1249 857.9H1171"/>
<line x1="1171" y1="857.9" x2="1149.4" y2="816.6" marker-end="url(#a)"/>
</g>
<text x="926" y="741.5" font-size="8.5" textLength="62" lengthAdjust="spacingAndGlyphs">32-Φ10（径向）</text>
<text x="935" y="755.5" font-size="8.5" textLength="35" lengthAdjust="spacingAndGlyphs">上下双层</text>
<text x="1172.7" y="852.5" font-size="9" textLength="74.7" lengthAdjust="spacingAndGlyphs">1*10扁铁箍(两层)</text>

<!-- ================= WATERMARKS ================= -->
<rect x="0" y="0" width="1568" height="1099" fill="url(#wm)"/>
<text class="ss" x="858.7" y="62" font-size="54" textLength="435.5" lengthAdjust="spacingAndGlyphs" style="fill:#f9aaaa;font-weight:300">源文件下载可编辑</text>
</svg>
</body></html>
